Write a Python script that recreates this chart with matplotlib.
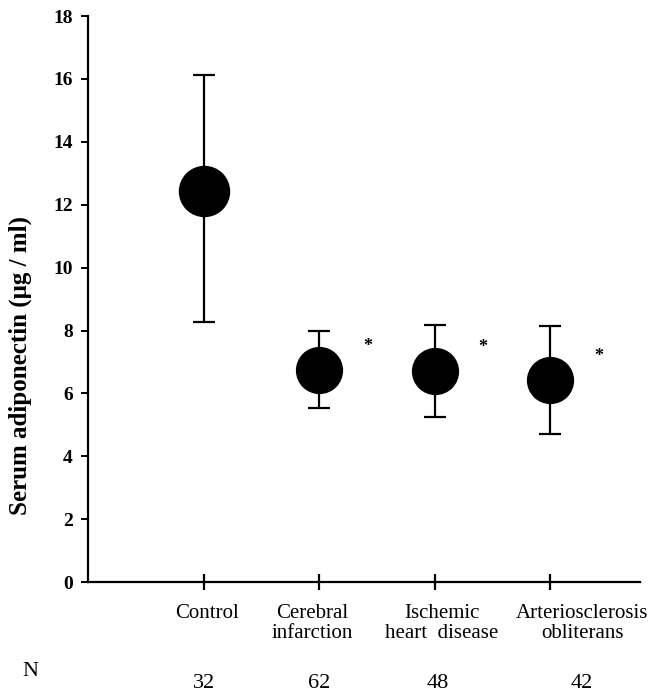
import matplotlib
matplotlib.use("Agg")
import matplotlib.pyplot as plt
import matplotlib.transforms as mtransforms

## DONNEES

groupes = ["Control", "Cerebral\ninfarction", "Ischemic\nheart  disease", "Arteriosclerosis\nobliterans"]
effectifs = [32, 62, 48, 42]
moyennes = [12.45, 6.75, 6.72, 6.43]
hauts = [16.12, 7.98, 8.17, 8.14]
bas = [8.27, 5.53, 5.25, 4.71]
tailles_marqueurs = [36, 33, 33, 33]
signif = [False, True, True, True]

## FIGURE

plt.rcParams["font.family"] = ["Liberation Serif", "DejaVu Serif"]

fig = plt.figure(figsize=(6.54, 6.98), dpi=100)
ax = fig.add_axes([0.1346, 0.166, 0.8444, 0.811])

xs = list(range(1, len(groupes) + 1))
for x, m, h, b, t in zip(xs, moyennes, hauts, bas, tailles_marqueurs):
    ax.errorbar([x], [m], yerr=[[m - b], [h - m]], fmt="o", color="black",
                markersize=t, elinewidth=1.6, capsize=8, capthick=1.6)

for x, m, s in zip(xs, moyennes, signif):
    if s:
        ax.text(x + 0.42, m + 0.75, "*", ha="center", va="center",
                fontsize=13, fontweight="bold")

ax.set_xlim(0, 4.78)
ax.set_ylim(0, 18)
ax.set_yticks(range(0, 19, 2))
ax.set_yticklabels([str(v) for v in range(0, 19, 2)], fontweight="bold", fontsize=14)
ax.set_xticks(xs)
ax.set_xticklabels(groupes, fontsize=15, linespacing=1.05)

ax.spines["top"].set_visible(False)
ax.spines["right"].set_visible(False)
ax.spines["left"].set_linewidth(1.6)
ax.spines["bottom"].set_linewidth(1.6)
ax.tick_params(axis="y", direction="out", length=5, width=1.4, pad=6)
ax.tick_params(axis="x", direction="inout", length=12, width=1.6, pad=10)

# petits decalages des etiquettes comme sur l'original
decalages = [0.03, -0.07, 0.07, 0.32]
for tick, d in zip(ax.xaxis.get_major_ticks(), decalages):
    lab = tick.label1
    lab.set_transform(lab.get_transform() + mtransforms.ScaledTranslation(d, 0, fig.dpi_scale_trans))

ax.set_ylabel("Serum adiponectin (\u03bcg / ml)", fontsize=18, fontweight="bold")
ax.yaxis.set_label_coords(-0.101, 0.382)

# ligne des effectifs
decalages_n = [0, 0, 2, 23]
fig.text(22 / 654, 1 - 672 / 698, "N", fontsize=16, ha="left", va="center")
for x, n, d in zip(xs, effectifs, decalages_n):
    ax.annotate(str(n), xy=(x, 0), xycoords="data", xytext=(d, -73),
                textcoords="offset points", ha="center", va="center", fontsize=16)

fig.savefig("out.png", dpi=100)
